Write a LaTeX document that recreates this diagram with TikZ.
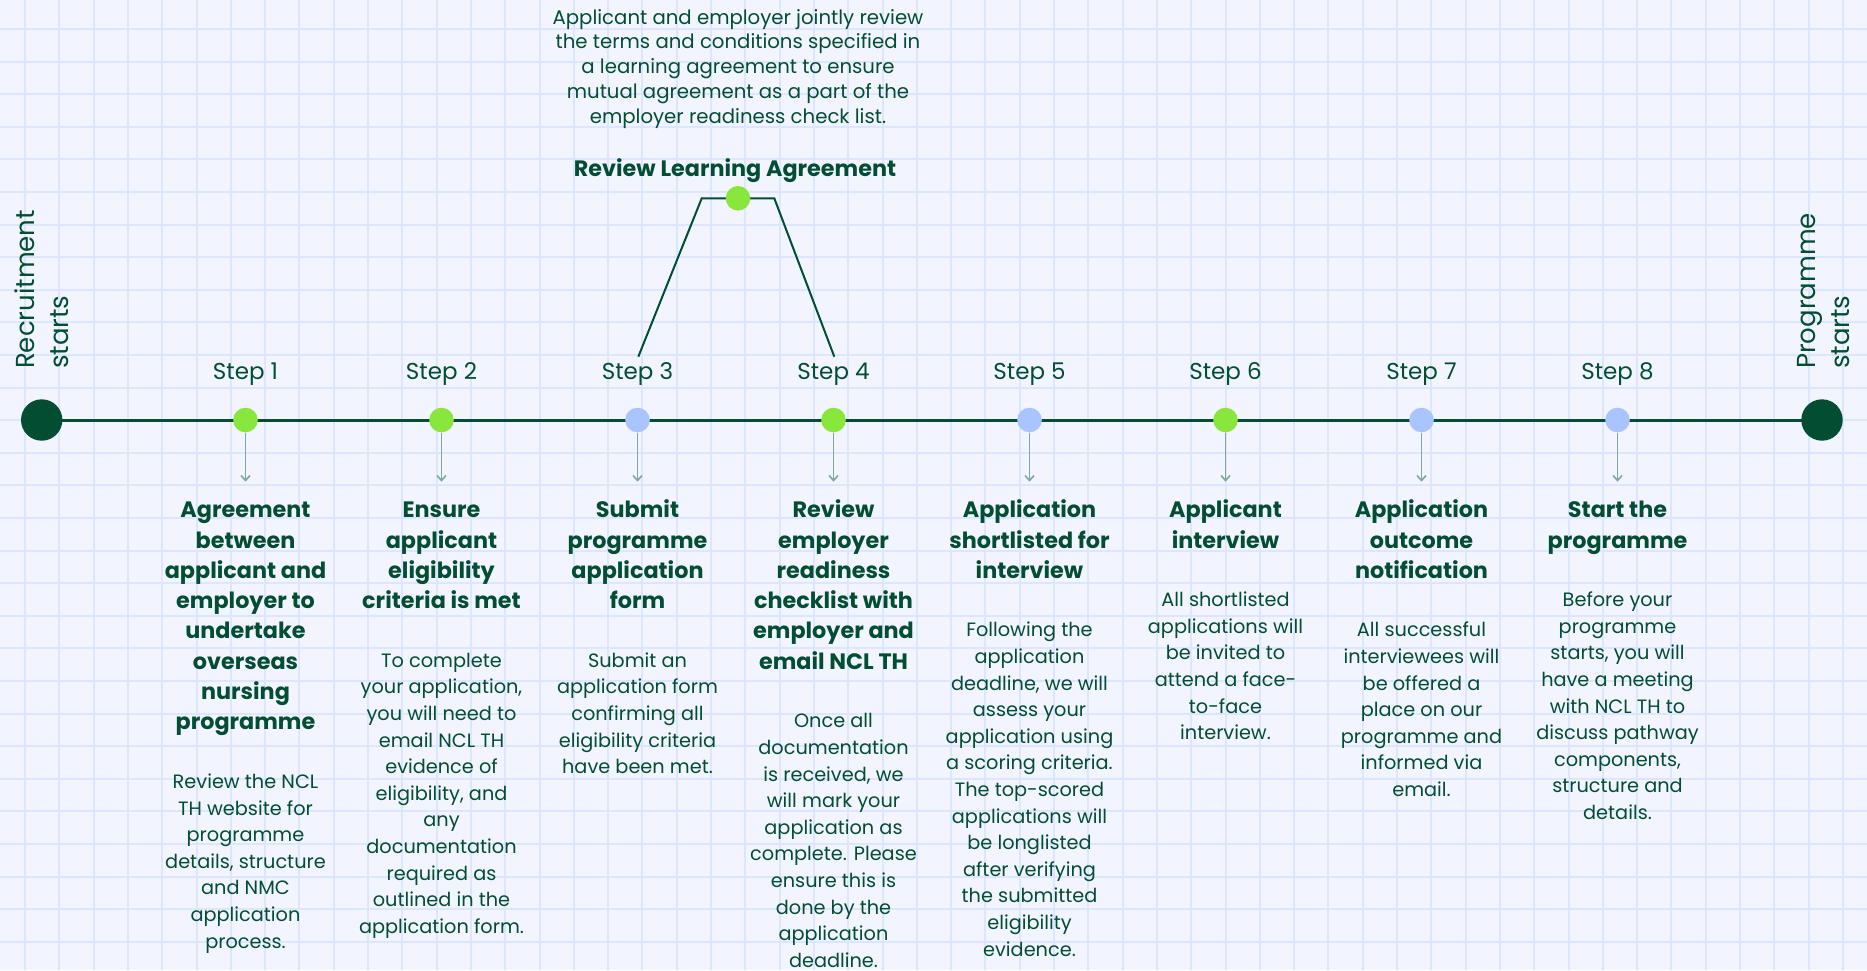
\documentclass[tikz,border=0pt]{standalone}
\usepackage{fontspec}
\setmainfont{Poppins}
\usetikzlibrary{arrows.meta,backgrounds}
\definecolor{bg}{HTML}{F2F5FF}
\definecolor{gridc}{HTML}{DCE6FF}
\definecolor{dkgreen}{HTML}{034D33}
\definecolor{ltgreen}{HTML}{89E63C}
\definecolor{ltblue}{HTML}{A9C4FF}
\definecolor{arrowc}{HTML}{80A79E}
\begin{document}
\begin{tikzpicture}[x=1pt,y=-1pt,
  stepdot/.style={circle,inner sep=0,minimum size=24.6pt},
  gdot/.style={stepdot,fill=ltgreen},
  bdot/.style={stepdot,fill=ltblue},
  enddot/.style={circle,fill=dkgreen,inner sep=0,minimum size=41.4pt},
  steplabel/.style={font=\fontsize{23}{26}\selectfont,text=dkgreen,anchor=base,inner sep=0},
  sidelabel/.style={font=\fontsize{26}{34}\selectfont,text=dkgreen,align=left,rotate=90,anchor=base west,inner sep=0},
  titletext/.style={font=\fontsize{22.3}{30.3}\selectfont\bfseries,text=dkgreen,align=center,anchor=base,inner sep=0},
  bodytext/.style={font=\fontsize{19.3}{26.6}\selectfont,text=dkgreen,align=center,anchor=base,inner sep=0},
  toptext/.style={font=\fontsize{19.7}{24.8}\selectfont,text=dkgreen,align=center,anchor=base,inner sep=0},
  downarrow/.style={draw=arrowc,line width=1.6pt,-{Straight Barb[length=5pt,width=9pt,line width=1.6pt]}},
  linkline/.style={draw=dkgreen,line width=2pt},
  timeline/.style={draw=dkgreen,line width=3pt}
]
\useasboundingbox (0,0) rectangle (1867,970);
\begin{scope}[on background layer]
\fill[bg] (0,0) rectangle (1867,970);
\foreach \k in {0,...,53} \draw[gridc,line width=2pt] (25+34.3*\k,0) -- (25+34.3*\k,970);
\foreach \k in {0,...,28} \draw[gridc,line width=2pt] (0,29+32.6*\k) -- (1867,29+32.6*\k);
\end{scope}

% end circles
\node[enddot] (L) at (41.7,420) {};
\node[enddot] (R) at (1822,420) {};
\node[sidelabel] (Ltxt) at (68,369) {Recruitment\\starts};
\node[sidelabel] (Rtxt) at (1849,369) {Programme\\starts};

% step dots
\node[gdot] (d1) at (245.5,420) {};
\node[gdot] (d2) at (441.5,420) {};
\node[bdot] (d3) at (637.5,420) {};
\node[gdot] (d4) at (833.5,420) {};
\node[bdot] (d5) at (1029.5,420) {};
\node[gdot] (d6) at (1225.5,420) {};
\node[bdot] (d7) at (1421.5,420) {};
\node[bdot] (d8) at (1617.5,420) {};

\begin{scope}[on background layer]
\draw[timeline] (L.center) -- (R.center);
\end{scope}

% step labels
\foreach \i/\x in {1/245.5,2/441.5,3/637.5,4/833.5,5/1029.5,6/1225.5,7/1421.5,8/1617.5}{
  \node[steplabel] (s\i) at (\x,379) {Step \i};
  \coordinate (a\i) at (\x,481.7);
  \draw[downarrow] (d\i.south) -- (a\i);
}

% Review learning agreement
\node[gdot] (rla) at (738,198.3) {};
\coordinate (p1) at (638.3,356.7);
\coordinate (p2) at (701.7,198.3);
\coordinate (p3) at (774.3,198.3);
\coordinate (p4) at (834.3,356.7);
\begin{scope}[on background layer]
\draw[linkline,line join=miter] (p1) -- (p2) -- (rla.center) -- (p3) -- (p4);
\end{scope}
\node[titletext] (rlat) at (735,176.7) {Review Learning Agreement};
\node[toptext] (rlab) at (738,123.2) {Applicant and employer jointly review\\the terms and conditions specified in\\a learning agreement to ensure\\mutual agreement as a part of the\\employer readiness check list.};

% titles (anchored at baseline of last line)
\node[titletext] (t1) at (245.5,729.8) {Agreement\\between\\applicant and\\employer to\\undertake\\overseas\\nursing\\programme};
\node[titletext] (t2) at (441.5,608.6) {Ensure\\applicant\\eligibility\\criteria is met};
\node[titletext] (t3) at (637.5,608.6) {Submit\\programme\\application\\form};
\node[titletext] (t4) at (833.5,669.2) {Review\\employer\\readiness\\checklist with\\employer and\\email NCL TH};
\node[titletext] (t5) at (1029.5,578.3) {Application\\shortlisted for\\interview};
\node[titletext] (t6) at (1225.5,548) {Applicant\\interview};
\node[titletext] (t7) at (1421.5,578.3) {Application\\outcome\\notification};
\node[titletext] (t8) at (1617.5,548) {Start the\\programme};

% bodies (anchored at baseline of last line)
\node[bodytext] (b1) at (245.5,948) {Review the NCL\\TH website for\\programme\\details, structure\\and NMC\\application\\process.};
\node[bodytext] (b2) at (441.5,933.2) {To complete\\your application,\\you will need to\\email NCL TH\\evidence of\\eligibility, and\\any\\documentation\\required as\\outlined in the\\application form.};
\node[bodytext] (b3) at (637.5,773.6) {Submit an\\application form\\confirming all\\eligibility criteria\\have been met.};
\node[bodytext] (b4) at (833.5,967.2) {Once all\\documentation\\is received, we\\will mark your\\application as\\complete. Please\\ensure this is\\done by the\\application\\deadline.};
\node[bodytext] (b5) at (1029.5,956.1) {Following the\\application\\deadline, we will\\assess your\\application using\\a scoring criteria.\\The top-scored\\applications will\\be longlisted\\after verifying\\the submitted\\eligibility\\evidence.};
\node[bodytext] (b6) at (1225.5,739.6) {All shortlisted\\applications will\\be invited to\\attend a face-\\to-face\\interview.};
\node[bodytext] (b7) at (1421.5,796.5) {All successful\\interviewees will\\be offered a\\place on our\\programme and\\informed via\\email.};
\node[bodytext] (b8) at (1617.5,819.4) {Before your\\programme\\starts, you will\\have a meeting\\with NCL TH to\\discuss pathway\\components,\\structure and\\details.};
\end{tikzpicture}
\end{document}
